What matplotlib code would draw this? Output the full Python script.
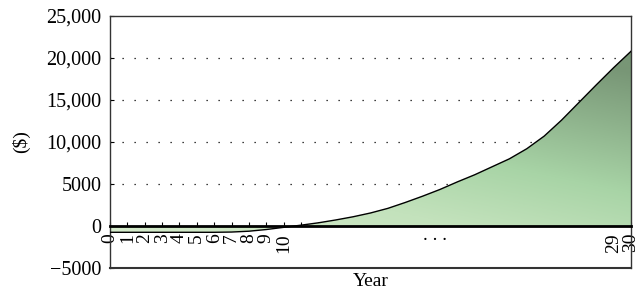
import numpy as np
import matplotlib
matplotlib.use("Agg")
import matplotlib.pyplot as plt
from matplotlib.colors import LinearSegmentedColormap
from matplotlib.ticker import FuncFormatter
import matplotlib.transforms as mtransforms

plt.rcParams['font.family'] = ['Liberation Serif', 'DejaVu Serif']

years = list(range(0, 31))
values = [-750, -750, -750, -750, -750, -750, -750, -720, -620, -420,
          -160, 100, 380, 720, 1100, 1550, 2100, 2800, 3550, 4350,
          5250, 6100, 7050, 8000, 9200, 10700, 12600, 14700, 16800, 18850,
          20800]
tick_labels = {0: '0', 1: '1', 2: '2', 3: '3', 4: '4', 5: '5', 6: '6', 7: '7',
               8: '8', 9: '9', 10: '10', 29: '29', 30: '30'}
y_ticks = [-5000, 0, 5000, 10000, 15000, 20000, 25000]

fig = plt.figure(figsize=(6.41, 2.9), dpi=100)
ax = fig.add_axes([110 / 641, 1 - 268 / 290, 521 / 641, 252 / 290])

# dotted grid
for v in [5000, 10000, 15000, 20000]:
    ax.axhline(v, color='black', lw=0.9, ls=(0, (1, 8.6)), zorder=1)

# gradient fill under curve
poly = ax.fill_between(years, values, 0, color='none', lw=0, zorder=2)
cmap = LinearSegmentedColormap.from_list(
    'g', [(0, '#d5ebcb'), (0.3, '#c3e2bc'), (0.55, '#a8d4a6'),
          (0.8, '#8db18b'), (1.0, '#789676')])
xx, yy = np.meshgrid(np.linspace(0, 1, 300), np.linspace(0, 1, 300))
t = np.clip(0.4 * xx + 0.68 * yy, 0, 1)
img = ax.imshow(t, cmap=cmap, origin='lower', extent=[0, 30, -1000, 21000],
                aspect='auto', zorder=2, vmin=0, vmax=1)
img.set_clip_path(poly.get_paths()[0], transform=ax.transData)
ax.set_xlim(0, 30)
ax.set_ylim(-5000, 25000)

ax.plot(years, values, color='black', lw=1.0, zorder=3)

# spines
for s in ['left', 'right', 'top']:
    ax.spines[s].set_color('#333333')
    ax.spines[s].set_linewidth(1.0)
ax.spines['bottom'].set_position(('data', 0))
ax.spines['bottom'].set_linewidth(2.0)
ax.spines['bottom'].set_color('black')
ax.spines['bottom'].set_zorder(4)
ax.axhline(-5000, color='#333333', lw=1.5, clip_on=False)

ax.set_xticks(years)
ax.set_xticklabels([tick_labels.get(y, '') for y in years], rotation=90,
                   fontsize=14, va='top')
ax.tick_params(axis='x', direction='in', length=3, width=0.8, pad=5)

ax.set_yticks(y_ticks)
ax.yaxis.set_major_formatter(FuncFormatter(
    lambda v, p: ('\u2212' if v < 0 else '') + (f'{abs(int(v)):,}' if abs(v) >= 10000 else str(abs(int(v))))))
ax.tick_params(axis='y', direction='in', length=3, width=0.8, labelsize=14.5, pad=6)

trans = mtransforms.blended_transform_factory(ax.transData, ax.transAxes)
ax.text(18.7, 0.111, '. . .', transform=trans, ha='center', va='baseline', fontsize=14)

ax.set_xlabel('Year', fontsize=14)
ax.xaxis.set_label_coords(0.5, -0.02)
ax.set_ylabel('($)', fontsize=14, labelpad=12)

fig.savefig('out.png', dpi=100)
